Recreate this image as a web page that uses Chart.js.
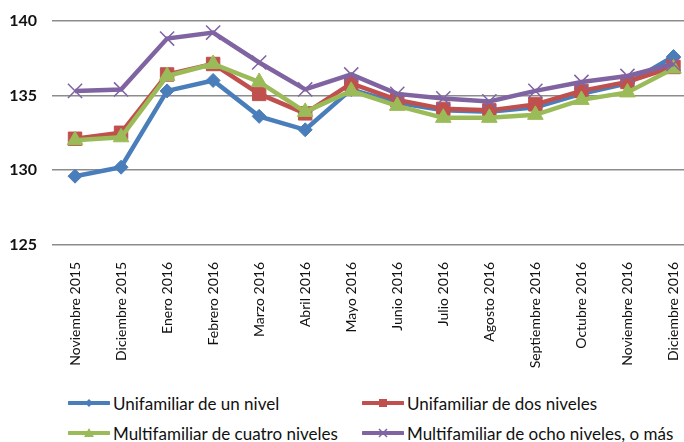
<!DOCTYPE html>
<html>
<head>
<meta charset="utf-8">
<script src="https://cdn.jsdelivr.net/npm/chart.js@4"></script>
<style>
  body { margin: 0; background: #fff; width: 684px; height: 442px; overflow: hidden; position: relative; font-family: Lato, "Open Sans", sans-serif; }
  #chart { position: absolute; left: 0; top: -4px; }
  .leg { position: absolute; display: flex; align-items: center; font-size: 17px; color: #111; white-space: nowrap; height: 20px; }
  .leg svg { margin-right: 3px; }
</style>
</head>
<body>
<canvas id="chart" width="708" height="390"></canvas>
<div id="legend"></div>
<script>
const months = ["Noviembre 2015", "Diciembre 2015", "Enero 2016", "Febrero 2016", "Marzo 2016",
    "Abril 2016", "Mayo 2016", "Junio 2016", "Julio 2016", "Agosto 2016",
    "Septiembre 2016", "Octubre 2016", "Noviembre 2016", "Diciembre 2016"];

const unNivel = [129.6, 130.2, 135.3, 136.0, 133.6, 132.7, 135.4, 134.5, 134.0, 133.9, 134.2, 135.1, 135.8, 137.6];
const dosNiveles = [132.1, 132.5, 136.4, 137.1, 135.1, 133.8, 135.8, 134.7, 134.1, 134.0, 134.4, 135.3, 135.9, 136.9];
const cuatroNiveles = [132.0, 132.2, 136.3, 137.1, 135.9, 133.9, 135.3, 134.3, 133.5, 133.5, 133.7, 134.7, 135.2, 136.8];
const ochoNiveles = [135.3, 135.4, 138.8, 139.2, 137.2, 135.4, 136.4, 135.1, 134.8, 134.6, 135.3, 135.9, 136.3, 137.1];

const yTicks = [125, 130, 135, 140];

const seriesNames = ["Unifamiliar de un nivel", "Unifamiliar de dos niveles",
    "Multifamiliar de cuatro niveles", "Multifamiliar de ocho niveles, o más"];
const colors = ["#4A7EBB", "#C0504D", "#9BBB59", "#8064A2"];

function series(i, values, style, radius) {
  return {
    label: seriesNames[i],
    data: values,
    borderColor: colors[i],
    backgroundColor: colors[i],
    borderWidth: 4.5,
    pointStyle: style,
    pointRadius: radius,
    pointBorderWidth: style === "crossRot" ? 1.5 : 1,
    pointBorderColor: colors[i],
    pointBackgroundColor: colors[i],
    tension: 0,
    order: 4 - i,
  };
}

const data = {
  labels: months,
  datasets: [
    series(0, unNivel, "rectRot", 7),
    series(1, dosNiveles, "rect", 9.5),
    series(2, cuatroNiveles, "triangle", 9),
    series(3, ochoNiveles, "crossRot", 10),
  ],
};

const config = {
  type: "line",
  data: data,
  options: {
    responsive: false,
    animation: false,
    devicePixelRatio: 1,
    layout: { padding: { top: 11, left: 0, right: 0, bottom: 0 } },
    plugins: {
      legend: { display: false },
      tooltip: { enabled: false },
    },
    scales: {
      x: {
        offset: true,
        grid: { display: false, drawTicks: false },
        border: { display: false },
        ticks: {
          autoSkip: false,
          minRotation: 90,
          maxRotation: 90,
          padding: 17,
          color: "#111",
          font: { family: "Lato", size: 14 },
        },
        afterFit: s => { s.height = 141; },
      },
      y: {
        min: 125,
        max: 140,
        grid: { color: "#8c8c8c", lineWidth: 1.5, drawTicks: false },
        border: { display: false },
        afterBuildTicks: s => { s.ticks = yTicks.map(v => ({ value: v })); },
        ticks: {
          padding: 15,
          color: "#111",
          font: { family: "Lato", size: 16, weight: "bold" },
        },
        afterFit: s => { s.width = 52; },
      },
    },
  },
};

let myChart = new Chart(document.getElementById("chart"), config);

// html legend, two columns like the original
const legendPos = [[68, 393], [362, 393], [68, 423], [362, 423]];
const markers = [
  c => `<polygon points="21,4 25,8 21,12 17,8" fill="${c}"/>`,
  c => `<rect x="17" y="4" width="8" height="8" fill="${c}"/>`,
  c => `<polygon points="21,3 26,12 16,12" fill="${c}"/>`,
  c => `<path d="M17,4 L25,12 M25,4 L17,12" stroke="${c}" stroke-width="1.5"/>`,
];
const legend = document.getElementById("legend");
seriesNames.forEach((name, i) => {
  const div = document.createElement("div");
  div.className = "leg";
  div.style.left = legendPos[i][0] + "px";
  div.style.top = legendPos[i][1] + "px";
  div.innerHTML = `<svg width="42" height="16"><line x1="1" y1="8" x2="41" y2="8" stroke="${colors[i]}" stroke-width="4" stroke-linecap="round"/>${markers[i](colors[i])}</svg><span>${name}</span>`;
  legend.appendChild(div);
});
</script>
</body>
</html>
